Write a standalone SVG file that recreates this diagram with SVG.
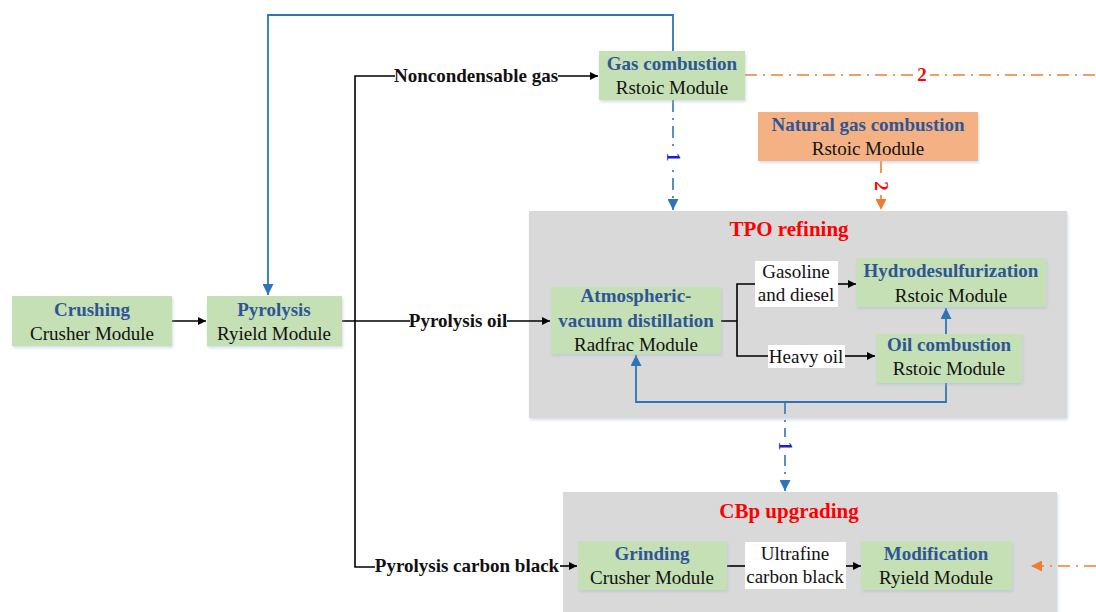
<svg xmlns="http://www.w3.org/2000/svg" width="1096" height="612" viewBox="0 0 1096 612">
  <defs>
    <marker id="arrK" viewBox="0 0 10 10" refX="10" refY="5" markerWidth="10" markerHeight="8" orient="auto" markerUnits="userSpaceOnUse">
      <path d="M0,0 L10,5 L0,10 z" fill="#000"/>
    </marker>
    <marker id="arrB" viewBox="0 0 10 10" refX="10" refY="5" markerWidth="12" markerHeight="11" orient="auto" markerUnits="userSpaceOnUse">
      <path d="M0,0 L10,5 L0,10 z" fill="#2e75b6"/>
    </marker>
    <marker id="arrO" viewBox="0 0 10 10" refX="10" refY="5" markerWidth="12" markerHeight="11" orient="auto" markerUnits="userSpaceOnUse">
      <path d="M0,0 L10,5 L0,10 z" fill="#ed7d31"/>
    </marker>
    <filter id="sh" x="-10%" y="-10%" width="120%" height="130%">
      <feDropShadow dx="1" dy="2" stdDeviation="1.5" flood-color="#9fb6d0" flood-opacity="0.45"/>
    </filter>
  </defs>
  <style>
    text { font-family: "Liberation Serif", "Times New Roman", serif; text-anchor: middle; }
    .box { fill: #c5e0b4; filter: url(#sh); }
    .ng { fill: #f4b183; filter: url(#sh); }
    .grp { fill: #d9d9d9; filter: url(#sh); }
    .lab { fill: #ffffff; }
    .t { font-size: 19px; font-weight: bold; fill: #2f5597; }
    .m { font-size: 19px; fill: #111; }
    .s { font-size: 19px; font-weight: bold; fill: #111; }
    .w { font-size: 19px; fill: #111; }
    .r { font-size: 21px; font-weight: bold; fill: #ff0000; }
    .k { stroke: #000; stroke-width: 1.6; fill: none; }
    .b { stroke: #2e75b6; stroke-width: 1.8; fill: none; }
    .bd { stroke: #2e75b6; stroke-width: 1.6; fill: none; stroke-dasharray: 12 6 2 6; }
    .od { stroke: #ed7d31; stroke-width: 1.6; fill: none; stroke-dasharray: 12 6 2 6; }
    .gap { fill: #ffffff; }
    .n1 { font-size: 18px; font-weight: bold; fill: #1f1fd0; }
    .n2 { font-size: 19px; font-weight: bold; fill: #ff0000; }
  </style>

  <!-- group panels -->
  <g id="tpo-refining">
    <rect class="grp" x="529" y="211" width="538" height="207"/>
    <text class="r" x="789" y="236">TPO refining</text>
  </g>
  <g id="cbp-upgrading">
    <rect class="grp" x="563" y="492" width="494" height="130"/>
    <text class="r" x="789" y="518">CBp upgrading</text>
  </g>

  <!-- connectors -->
  <g id="connectors">
    <!-- black process streams -->
    <line class="k" x1="172" y1="321" x2="206" y2="321" marker-end="url(#arrK)"/>
    <path class="k" d="M342,321 H410"/>
    <path class="k" d="M395,76 H355 V567 H375"/>
    <line class="k" x1="558" y1="76" x2="598" y2="76" marker-end="url(#arrK)"/>
    <line class="k" x1="507" y1="321" x2="550" y2="321" marker-end="url(#arrK)"/>
    <line class="k" x1="560" y1="566" x2="577" y2="566" marker-end="url(#arrK)"/>
    <path class="k" d="M721,321 H737 M755,284 H737 V356 H768"/>
    <line class="k" x1="838" y1="284" x2="856" y2="284" marker-end="url(#arrK)"/>
    <line class="k" x1="845" y1="356" x2="875" y2="356" marker-end="url(#arrK)"/>
    <line class="k" x1="727" y1="566" x2="745" y2="566"/>
    <line class="k" x1="846" y1="566" x2="861" y2="566" marker-end="url(#arrK)"/>

    <!-- blue heat streams -->
    <path class="b" d="M673,51 V15 H268 V295" marker-end="url(#arrB)"/>
    <line class="bd" x1="673" y1="100" x2="673" y2="210" marker-end="url(#arrB)"/>
    <line class="b" x1="946" y1="334" x2="946" y2="308" marker-end="url(#arrB)"/>
    <path class="b" d="M946,383 V402 H636 V355" marker-end="url(#arrB)"/>
    <line class="bd" x1="785" y1="402" x2="785" y2="491" marker-end="url(#arrB)"/>

    <!-- orange heat streams -->
    <line class="od" x1="745" y1="75" x2="1096" y2="75"/>
    <line class="od" x1="881" y1="161" x2="881" y2="210" marker-end="url(#arrO)"/>
    <line class="od" x1="1096" y1="566" x2="1031" y2="566" marker-end="url(#arrO)"/>

    <!-- stream labels -->
    <text class="s" x="476" y="82">Noncondensable gas</text>
    <text class="s" x="458" y="327">Pyrolysis oil</text>
    <text class="s" x="467" y="572">Pyrolysis carbon black</text>
    <rect class="lab" x="755" y="261" width="83" height="46"/>
    <text class="w" x="796" y="278">Gasoline</text>
    <text class="w" x="796" y="301">and diesel</text>
    <rect class="lab" x="768" y="345" width="77" height="23"/>
    <text class="w" x="806" y="363">Heavy oil</text>
    <rect class="lab" x="745" y="542" width="101" height="47"/>
    <text class="w" x="795" y="560">Ultrafine</text>
    <text class="w" x="795" y="583">carbon black</text>

    <!-- stream numbers -->
    <rect class="gap" x="914" y="65" width="16" height="20"/>
    <text class="n2" x="922" y="81">2</text>
    <rect class="gap" x="664" y="148" width="18" height="18"/>
    <text class="n1" transform="translate(673,157) rotate(90)" y="6">1</text>
    <rect class="gap" x="872" y="177" width="18" height="18"/>
    <text class="n2" transform="translate(881,186) rotate(90)" y="6">2</text>
    <rect class="gap" x="776" y="437" width="18" height="18"/>
    <text class="n1" transform="translate(785,446) rotate(90)" y="6">1</text>
  </g>

  <!-- unit operations -->
  <g id="crushing">
    <rect class="box" x="12" y="296" width="160" height="50"/>
    <text class="t" x="92" y="316">Crushing</text>
    <text class="m" x="92" y="340">Crusher Module</text>
  </g>
  <g id="pyrolysis">
    <rect class="box" x="207" y="296" width="135" height="50"/>
    <text class="t" x="274" y="316">Pyrolysis</text>
    <text class="m" x="274" y="340">Ryield Module</text>
  </g>
  <g id="gas-combustion">
    <rect class="box" x="599" y="51" width="146" height="49"/>
    <text class="t" x="672" y="70">Gas combustion</text>
    <text class="m" x="672" y="94">Rstoic Module</text>
  </g>
  <g id="natural-gas-combustion">
    <rect class="ng" x="758" y="112" width="220" height="49"/>
    <text class="t" x="868" y="131">Natural gas combustion</text>
    <text class="m" x="868" y="155">Rstoic Module</text>
  </g>
  <g id="distillation">
    <rect class="box" x="551" y="287" width="170" height="67"/>
    <text class="t" x="636" y="302">Atmospheric-</text>
    <text class="t" x="636" y="327">vacuum distillation</text>
    <text class="m" x="636" y="351">Radfrac Module</text>
  </g>
  <g id="hydrodesulfurization">
    <rect class="box" x="856" y="258" width="190" height="49"/>
    <text class="t" x="951" y="277">Hydrodesulfurization</text>
    <text class="m" x="951" y="302">Rstoic Module</text>
  </g>
  <g id="oil-combustion">
    <rect class="box" x="876" y="334" width="146" height="49"/>
    <text class="t" x="949" y="351">Oil combustion</text>
    <text class="m" x="949" y="375">Rstoic Module</text>
  </g>
  <g id="grinding">
    <rect class="box" x="578" y="541" width="149" height="49"/>
    <text class="t" x="652" y="560">Grinding</text>
    <text class="m" x="652" y="584">Crusher Module</text>
  </g>
  <g id="modification">
    <rect class="box" x="861" y="541" width="151" height="49"/>
    <text class="t" x="936" y="560">Modification</text>
    <text class="m" x="936" y="584">Ryield Module</text>
  </g>
</svg>
